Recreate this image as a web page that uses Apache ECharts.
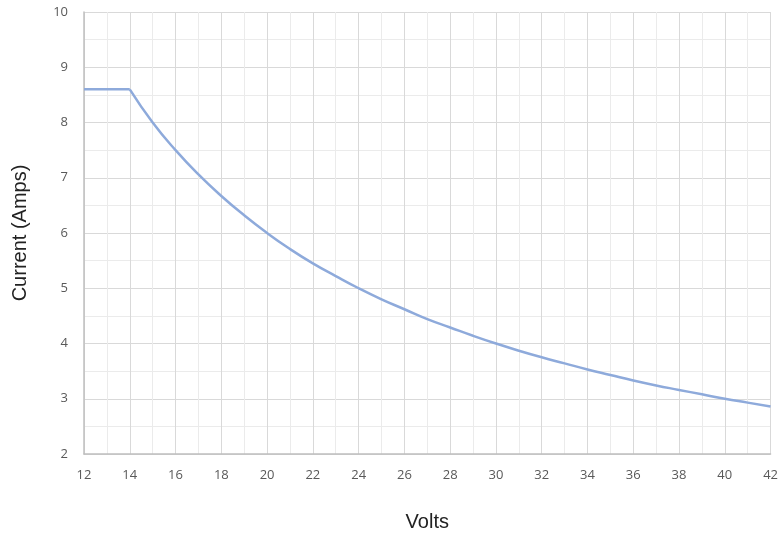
<!DOCTYPE html>
<html><head><meta charset="utf-8">
<script src="https://cdn.jsdelivr.net/npm/echarts@6/dist/echarts.min.js"></script>
<style>html,body{margin:0;padding:0;background:#fff}#c{width:781px;height:537px}</style>
</head><body><div id="c"></div>
<script>
const volts = [12,13,14,15,16,17,18,19,20,21,22,23,24,25,26,27,28,29,30,31,32,33,34,35,36,37,38,39,40,41,42];
const amps  = [8.6,8.6,8.6,8.0,7.5,7.06,6.67,6.32,6.0,5.71,5.45,5.22,5.0,4.8,4.62,4.44,4.29,4.14,4.0,3.87,3.75,3.64,3.53,3.43,3.33,3.24,3.16,3.08,3.0,2.93,2.86];
const xName = 'Volts';
const yName = 'Current (Amps)';

const pts = volts.map((v, i) => [v, amps[i]]);
const kink = volts.indexOf(14);
const lineStyle = {color: '#8eaadb', width: 2.5};

const chart = echarts.init(document.getElementById('c'));
chart.setOption({
  animation: false,
  grid: {left: 84, right: 8, top: 12, bottom: 82},
  xAxis: {
    type: 'value', min: 12, max: 42, interval: 1,
    name: xName, nameLocation: 'middle', nameGap: 58,
    nameTextStyle: {fontFamily: 'Liberation Sans', fontSize: 20, color: '#222'},
    axisLine: {lineStyle: {color: '#bfbfbf', width: 1.5}},
    axisTick: {show: false},
    axisLabel: {margin: 15, fontFamily: 'Open Sans', fontSize: 13, color: '#595959',
      formatter: v => (v % 2 === 0 ? String(v) : '')},
    splitLine: {show: true, lineStyle: {color: ['#d9d9d9','#ebebeb'], width: 1}}
  },
  yAxis: {
    type: 'value', min: 2, max: 10, interval: 0.5,
    name: yName, nameLocation: 'middle', nameGap: 54,
    nameTextStyle: {fontFamily: 'Liberation Sans', fontSize: 20, color: '#222'},
    axisLine: {show: true, lineStyle: {color: '#bfbfbf', width: 1.5}},
    axisTick: {show: false},
    axisLabel: {margin: 16, fontFamily: 'Open Sans', fontSize: 13, color: '#595959',
      formatter: v => (Math.abs(v - Math.round(v)) < 1e-6 ? String(Math.round(v)) : '')},
    splitLine: {show: true, lineStyle: {color: ['#d9d9d9','#ebebeb'], width: 1}}
  },
  series: [
    {type: 'line', data: pts.slice(0, kink + 1), showSymbol: false, lineStyle: lineStyle},
    {type: 'line', data: pts.slice(kink), smooth: 0.5, showSymbol: false, lineStyle: lineStyle}
  ]
});
</script></body></html>
